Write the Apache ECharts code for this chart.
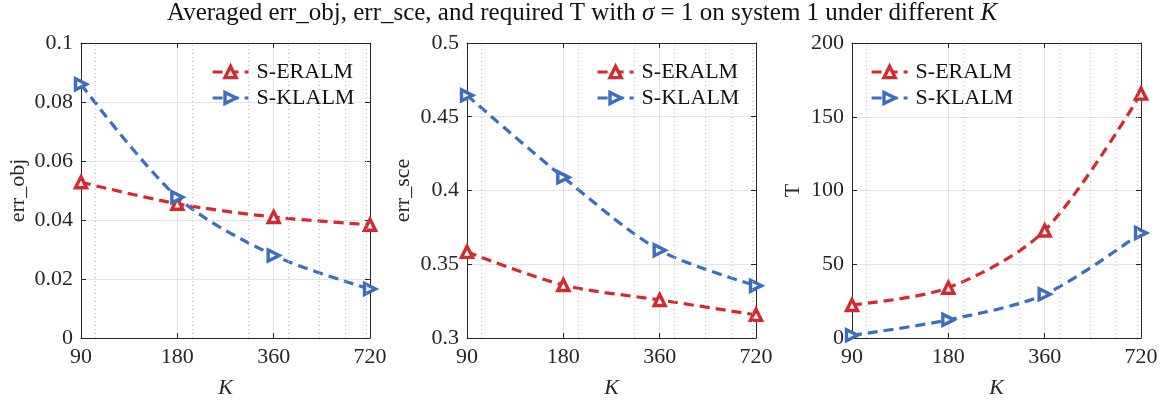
<!DOCTYPE html>
<html>
<head>
<meta charset="utf-8">
<script src="https://cdn.jsdelivr.net/npm/echarts@6/dist/echarts.min.js"></script>
<style>
  html, body { margin: 0; padding: 0; background: #fff; }
  #chart { width: 1164px; height: 404px; }
</style>
</head>
<body>
<div id="chart"></div>
<script>
// K values (log2 spaced), minor grid positions
const kValues = [90, 180, 360, 720];
const minorK = [100, 200, 300, 400, 500, 600, 700];
const seriesNames = ['S-ERALM', 'S-KLALM'];

// err_obj
const eralmObj = [0.0528, 0.0455, 0.0410, 0.0384];
const klalmObj = [0.0860, 0.0477, 0.0280, 0.0166];
// err_sce
const eralmSce = [0.3584, 0.3359, 0.3258, 0.3157];
const klalmSce = [0.4645, 0.4089, 0.3595, 0.3355];
// required T
const eralmT = [22.4, 34.1, 72.9, 165.7];
const klalmT = [1.8, 12.3, 29.6, 71.2];

// y axis ranges: [min, max, interval]
const yRanges = [[0, 0.1, 0.02], [0.3, 0.5, 0.05], [0, 200, 50]];
const yNames = ['err_obj', 'err_sce', 'T'];

const RED = '#d42a2f';
const BLUE = '#3b6ebe';
const FONT = '"Liberation Serif", "DejaVu Serif", serif';
const AXIS_COLOR = '#262626';

const K0 = 90;
function toX(k) { return Math.log2(k / K0); }

let gridLefts = [81, 467, 852];
let nameGaps = [52, 53, 48];
let legendLefts = [206, 591, 865];

let grid = [], xAxis = [], yAxis = [], series = [], legend = [];

const panels = [
  [eralmObj, klalmObj],
  [eralmSce, klalmSce],
  [eralmT, klalmT]
];

for (let i = 0; i < 3; i++) {
  grid.push({ left: gridLefts[i], top: 43, width: 289, height: 297 });
  // bottom x axis
  xAxis.push({
    type: 'value', gridIndex: i, min: 0, max: 3, interval: 1,
    position: 'bottom',
    name: 'K', nameLocation: 'middle', nameGap: 39,
    nameTextStyle: { fontFamily: FONT, fontSize: 22, fontStyle: 'italic', color: AXIS_COLOR },
    axisLine: { show: true, onZero: false, lineStyle: { color: AXIS_COLOR, width: 1 } },
    axisTick: { show: true, inside: true, length: 5, lineStyle: { color: AXIS_COLOR } },
    axisLabel: {
      fontFamily: FONT, fontSize: 22, color: AXIS_COLOR, margin: 8,
      formatter: v => String(Math.round(K0 * Math.pow(2, v)))
    },
    splitLine: { show: true, lineStyle: { color: '#e3e3e3', width: 1 } }
  });
  // top x axis (box)
  xAxis.push({
    type: 'value', gridIndex: i, min: 0, max: 3, interval: 1,
    position: 'top',
    axisLine: { show: true, onZero: false, lineStyle: { color: AXIS_COLOR, width: 1 } },
    axisTick: { show: true, inside: true, length: 5, lineStyle: { color: AXIS_COLOR } },
    axisLabel: { show: false },
    splitLine: { show: false }
  });
  const r = yRanges[i];
  yAxis.push({
    type: 'value', gridIndex: i, min: r[0], max: r[1], interval: r[2],
    position: 'left',
    name: yNames[i], nameLocation: 'middle', nameGap: nameGaps[i], nameRotate: 90,
    nameTextStyle: { fontFamily: FONT, fontSize: 22, color: AXIS_COLOR },
    axisLine: { show: true, onZero: false, lineStyle: { color: AXIS_COLOR, width: 1 } },
    axisTick: { show: true, inside: true, length: 5, lineStyle: { color: AXIS_COLOR } },
    axisLabel: {
      fontFamily: FONT, fontSize: 22, color: AXIS_COLOR, margin: 8,
      formatter: v => String(parseFloat(v.toFixed(4)))
    },
    splitLine: { show: true, lineStyle: { color: '#e3e3e3', width: 1 } }
  });
  yAxis.push({
    type: 'value', gridIndex: i, min: r[0], max: r[1], interval: r[2],
    position: 'right',
    axisLine: { show: true, onZero: false, lineStyle: { color: AXIS_COLOR, width: 1 } },
    axisTick: { show: true, inside: true, length: 5, lineStyle: { color: AXIS_COLOR } },
    axisLabel: { show: false },
    splitLine: { show: false }
  });

  // helper series: dotted minor grid lines at log positions
  series.push({
    type: 'line', name: 'minor' + i, xAxisIndex: 2 * i, yAxisIndex: 2 * i,
    data: [], z: 1, silent: true,
    markLine: {
      silent: true, symbol: 'none', label: { show: false },
      lineStyle: { type: [1, 3], color: '#c4c4c4', width: 1 },
      data: minorK.map(k => ({ xAxis: toX(k) }))
    }
  });

  const pair = panels[i];
  const colors = [RED, BLUE];
  const rotates = [0, -90];
  for (let s = 0; s < 2; s++) {
    series.push({
      type: 'line', name: seriesNames[s],
      xAxisIndex: 2 * i, yAxisIndex: 2 * i,
      data: pair[s].map((v, j) => [toX(kValues[j]), v]),
      smooth: 0.3,
      symbol: 'triangle', symbolSize: 11, symbolRotate: rotates[s],
      showAllSymbol: true,
      lineStyle: { color: colors[s], width: 3.2, type: [10, 6] },
      itemStyle: { color: '#fff', borderColor: colors[s], borderWidth: 3.4 },
      z: 3, animation: false
    });
  }

  legend.push({
    data: seriesNames,
    left: legendLefts[i], top: 56,
    orient: 'vertical', itemGap: 4,
    itemWidth: 36, itemHeight: 14,
    selectedMode: false,
    lineStyle: { width: 3.2 },
    itemStyle: { borderWidth: 3.4 },
    textStyle: { fontFamily: FONT, fontSize: 22, color: '#111', padding: [0, 0, 0, 3] }
  });
}

const chart = echarts.init(document.getElementById('chart'), null, { renderer: 'canvas' });
chart.setOption({
  animation: false,
  backgroundColor: '#fff',
  title: {
    text: 'Averaged err_obj, err_sce, and required T with {i|σ} = 1 on system 1 under different {i|K}',
    left: 'center', top: -4,
    textStyle: {
      fontFamily: FONT, fontSize: 25, fontWeight: 'normal', color: '#111',
      rich: { i: { fontFamily: FONT, fontSize: 25, fontStyle: 'italic', color: '#111' } }
    }
  },
  grid, xAxis, yAxis, legend, series
});
</script>
</body>
</html>
